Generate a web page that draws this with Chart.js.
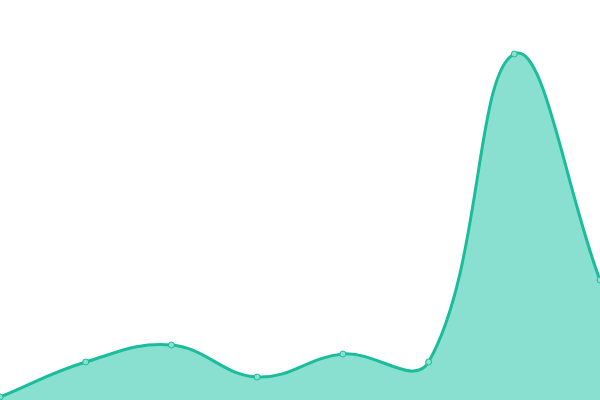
<!DOCTYPE html>
<html>
<head>
<meta charset="utf-8">
<script src="https://cdn.jsdelivr.net/npm/chart.js@4/dist/chart.umd.min.js"></script>
<style>
html,body{margin:0;padding:0;background:#fff;}
#wrap{width:600px;height:400px;}
</style>
</head>
<body>
<div id="wrap"><canvas id="c" width="600" height="400"></canvas></div>
<script>
const labels = ["1","2","3","4","5","6","7","8"];
const values = [3, 38, 55, 23, 46, 38, 346, 120];

new Chart(document.getElementById('c'), {
  type: 'line',
  data: {
    labels: labels,
    datasets: [{
      data: values,
      borderColor: '#1abc9c',
      backgroundColor: '#8ae0d0',
      borderWidth: 3,
      fill: true,
      tension: 0.4,
      pointRadius: 3,
      pointBackgroundColor: '#8ae0d0',
      pointBorderColor: '#1abc9c',
      pointBorderWidth: 1,
      clip: false
    }]
  },
  options: {
    responsive: false,
    animation: false,
    layout: { padding: 0, autoPadding: false },
    plugins: { legend: { display: false }, tooltip: { enabled: false } },
    scales: {
      x: { display: false, offset: false },
      y: { display: false, min: 0, max: 400 }
    }
  }
});
</script>
</body>
</html>
